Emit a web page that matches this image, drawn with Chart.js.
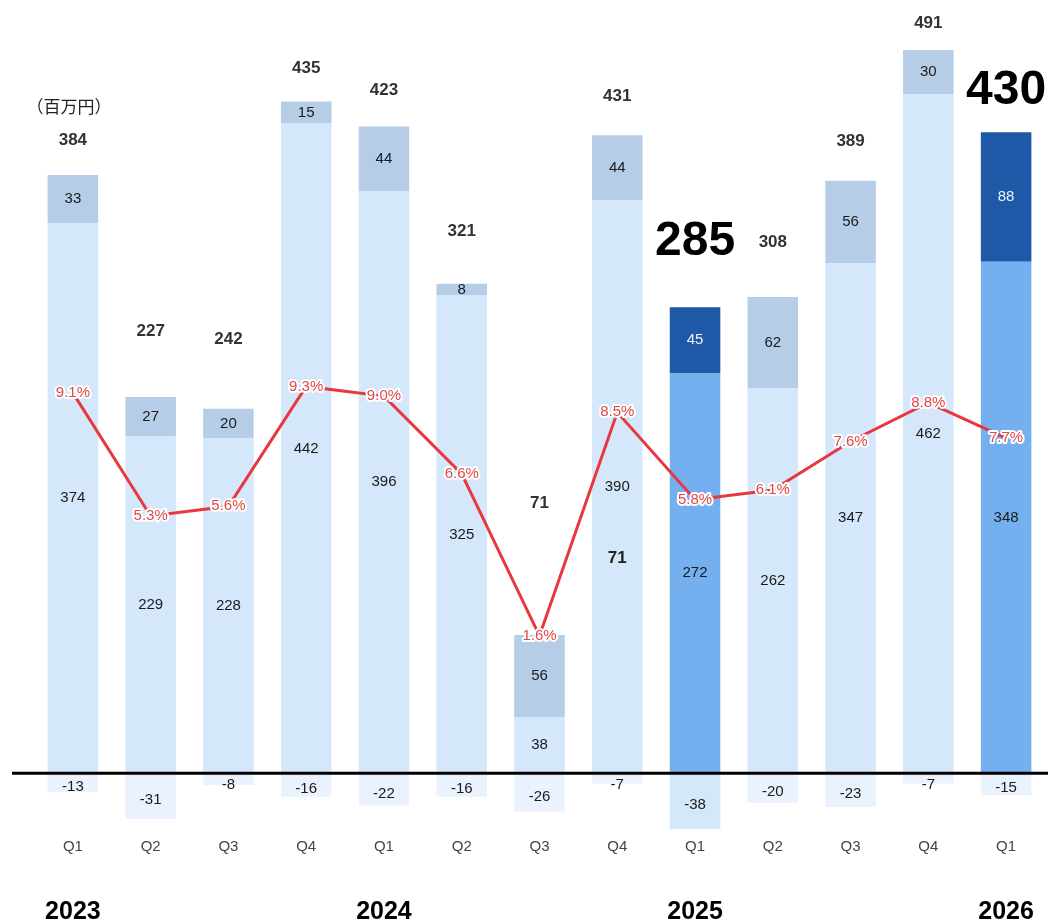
<!DOCTYPE html>
<html>
<head>
<meta charset="utf-8">
<script src="https://cdn.jsdelivr.net/npm/chart.js@4.4.1/dist/chart.umd.min.js"></script>
<style>
  html, body { margin: 0; padding: 0; background: #fff; }
  canvas { display: block; }
</style>
</head>
<body>
<canvas id="chart" width="1048" height="923"></canvas>
<script>
// データ（百万円）
const quarters = ['Q1', 'Q2', 'Q3', 'Q4', 'Q1', 'Q2', 'Q3', 'Q4', 'Q1', 'Q2', 'Q3', 'Q4', 'Q1']
const years = ['2023', '', '', '', '2024', '', '', '', '2025', '', '', '', '2026']
const mainValues = [374, 229, 228, 442, 396, 325, 38, 390, 272, 262, 347, 462, 348]
const topValues = [33, 27, 20, 15, 44, 8, 56, 44, 45, 62, 56, 30, 88]
const negValues = [-13, -31, -8, -16, -22, -16, -26, -7, -38, -20, -23, -7, -15]
const totals = [384, 227, 242, 435, 423, 321, 71, 431, 285, 308, 389, 491, 430]
const margins = [9.1, 5.3, 5.6, 9.3, 9.0, 6.6, 1.6, 8.5, 5.8, 6.1, 7.6, 8.8, 7.7]
const highlight = [8, 12]  // 強調する四半期

// 合計ラベルとバー上端の距離（元図のレイアウト）
const totalGap = [35, 66, 69, 33, 36, 52, 132, 39, 65, 55, 40, 27, 42]

const isHi = i => highlight.includes(i)
const mainColors = quarters.map((q, i) => isHi(i) ? '#74aff0' : '#d5e7fb')
const topColors = quarters.map((q, i) => isHi(i) ? '#1f58a6' : '#b5cde6')
const negColors = quarters.map((q, i) => i === 8 ? '#d5e7fb' : '#e9f2fd')

const FONT = '"Liberation Sans", Arial, sans-serif'

const labelPlugin = {
  id: 'labelPlugin',
  afterDatasetsDraw(chart) {
    const ctx = chart.ctx
    const y = chart.scales.y
    const x = chart.scales.x
    const mainMeta = chart.getDatasetMeta(0)
    const topMeta = chart.getDatasetMeta(1)
    const negMeta = chart.getDatasetMeta(2)
    const lineMeta = chart.getDatasetMeta(3)

    ctx.save()
    // ゼロライン
    const y0 = y.getPixelForValue(0)
    ctx.strokeStyle = '#000'
    ctx.lineWidth = 3
    ctx.beginPath()
    ctx.moveTo(12, y0)
    ctx.lineTo(chart.width, y0)
    ctx.stroke()

    ctx.textAlign = 'center'
    ctx.textBaseline = 'middle'

    quarters.forEach((q, i) => {
      const m = mainMeta.data[i]
      const t = topMeta.data[i]
      const n = negMeta.data[i]

      ctx.font = '15px ' + FONT
      ctx.fillStyle = '#1a1a1a'
      ctx.fillText(mainValues[i], m.x, (m.y + m.base) / 2)
      ctx.fillStyle = isHi(i) ? '#eef4fc' : '#1a1a1a'
      ctx.fillText(topValues[i], t.x, (t.y + t.base) / 2)
      ctx.fillStyle = '#1a1a1a'
      ctx.fillText(negValues[i], n.x, Math.max((n.y + n.base) / 2 + 4, y0 + 12))

      if (isHi(i)) {
        ctx.font = 'bold 48px ' + FONT
        ctx.fillStyle = '#000'
      } else {
        ctx.font = 'bold 17px ' + FONT
        ctx.fillStyle = '#333'
      }
      ctx.fillText(totals[i], t.x, t.y - totalGap[i])
    })

    // 2024 Q4 バー内の「71」
    const q4 = mainMeta.data[7]
    ctx.font = 'bold 17px ' + FONT
    ctx.fillStyle = '#222'
    ctx.fillText('71', q4.x, q4.y + 358)

    // 利益率ラベル
    ctx.font = '15px ' + FONT
    ctx.lineJoin = 'round'
    lineMeta.data.forEach((p, i) => {
      const txt = margins[i].toFixed(1) + '%'
      ctx.strokeStyle = '#fff'
      ctx.lineWidth = 4
      ctx.strokeText(txt, p.x, p.y)
      ctx.fillStyle = '#e04848'
      ctx.fillText(txt, p.x, p.y)
    })

    // 年ラベル
    ctx.font = 'bold 25px ' + FONT
    ctx.fillStyle = '#000'
    years.forEach((yr, i) => {
      if (yr) ctx.fillText(yr, x.getPixelForValue(i), chart.height - 11)
    })

    // 単位
    ctx.font = '17px "Noto Sans CJK JP", sans-serif'
    ctx.fillStyle = '#222'
    ctx.fillText('（百万円）', 69, 107)
    ctx.restore()
  }
}

new Chart(document.getElementById('chart'), {
  type: 'bar',
  data: {
    labels: quarters,
    datasets: [
      { label: 'main', data: mainValues, backgroundColor: mainColors, stack: 's', order: 2 },
      { label: 'top', data: topValues, backgroundColor: topColors, stack: 's', order: 2 },
      { label: 'neg', data: negValues, backgroundColor: negColors, stack: 's', order: 2 },
      {
        type: 'line',
        label: 'margin',
        data: margins,
        yAxisID: 'y1',
        borderColor: '#e8383d',
        borderWidth: 3,
        pointRadius: 0,
        tension: 0,
        order: 1
      }
    ]
  },
  options: {
    responsive: false,
    animation: false,
    layout: { padding: { left: 34, right: 3, top: 0, bottom: 64 } },
    plugins: {
      legend: { display: false },
      tooltip: { enabled: false }
    },
    datasets: {
      bar: { categoryPercentage: 1, barPercentage: 0.65 }
    },
    scales: {
      x: {
        stacked: true,
        grid: { display: false, drawTicks: false },
        border: { display: false },
        ticks: { color: '#444', font: { size: 15, family: FONT }, padding: 3 }
      },
      y: {
        stacked: true,
        display: false,
        min: -42,
        max: 526
      },
      y1: {
        display: false,
        min: -4.55,
        max: 21.23
      }
    }
  },
  plugins: [labelPlugin]
})
</script>
</body>
</html>
